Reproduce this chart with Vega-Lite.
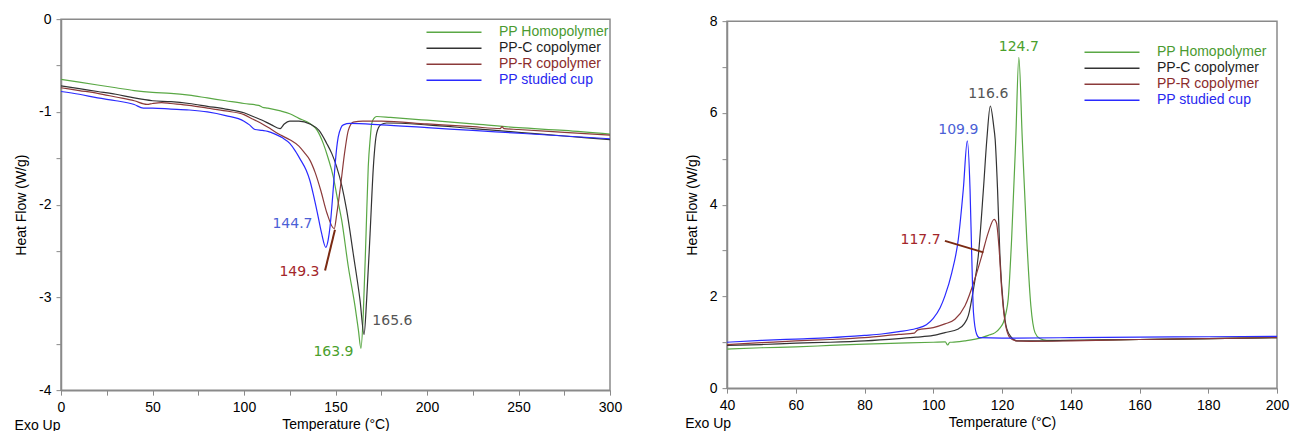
{
  "$schema": "https://vega.github.io/schema/vega-lite/v6.json",
  "padding": {"left": 13, "top": 11, "right": 0, "bottom": 0},
  "spacing": 61,
  "center": true,
  "config": {
    "font": "Liberation Sans",
    "view": {"stroke": "#8a8a8a", "strokeWidth": 1.5},
    "axis": {"grid": false, "labelFont": "Liberation Sans", "labelFontSize": 14, "labelColor": "#000000", "titleFont": "Liberation Sans", "titleFontSize": 14, "titleFontWeight": "normal", "titleColor": "#000000", "tickColor": "#8a8a8a", "domainColor": "#8a8a8a", "domainWidth": 1.5, "tickSize": 5, "labelPadding": 5, "labelFlush": false, "labelOverlap": false},
    "axisY": {"titlePadding": 10},
    "axisX": {"titlePadding": 3},
    "title": {"font": "Liberation Sans", "fontSize": 14, "fontWeight": "normal", "color": "#000000"}
  },
  "datasets": {
    "heat": [
      {"series": "PP Homopolymer", "T": 0, "HF": -0.65}, {"series": "PP Homopolymer", "T": 10, "HF": -0.68}, {"series": "PP Homopolymer", "T": 20, "HF": -0.71}, {"series": "PP Homopolymer", "T": 30, "HF": -0.74}, {"series": "PP Homopolymer", "T": 40, "HF": -0.77}, {"series": "PP Homopolymer", "T": 50, "HF": -0.79}, {"series": "PP Homopolymer", "T": 60, "HF": -0.8}, {"series": "PP Homopolymer", "T": 70, "HF": -0.82}, {"series": "PP Homopolymer", "T": 80, "HF": -0.85}, {"series": "PP Homopolymer", "T": 90, "HF": -0.88}, {"series": "PP Homopolymer", "T": 100, "HF": -0.91}, {"series": "PP Homopolymer", "T": 108, "HF": -0.93}, {"series": "PP Homopolymer", "T": 110, "HF": -0.95}, {"series": "PP Homopolymer", "T": 113, "HF": -0.96}, {"series": "PP Homopolymer", "T": 120, "HF": -0.99}, {"series": "PP Homopolymer", "T": 125, "HF": -1.02}, {"series": "PP Homopolymer", "T": 130, "HF": -1.07}, {"series": "PP Homopolymer", "T": 136, "HF": -1.125}, {"series": "PP Homopolymer", "T": 140, "HF": -1.2}, {"series": "PP Homopolymer", "T": 143.3, "HF": -1.34}, {"series": "PP Homopolymer", "T": 146, "HF": -1.5}, {"series": "PP Homopolymer", "T": 148.8, "HF": -1.7}, {"series": "PP Homopolymer", "T": 151, "HF": -1.93}, {"series": "PP Homopolymer", "T": 153.4, "HF": -2.17}, {"series": "PP Homopolymer", "T": 157, "HF": -2.67}, {"series": "PP Homopolymer", "T": 160.7, "HF": -3.1}, {"series": "PP Homopolymer", "T": 162.5, "HF": -3.35}, {"series": "PP Homopolymer", "T": 163.9, "HF": -3.55}, {"series": "PP Homopolymer", "T": 165.2, "HF": -3.17}, {"series": "PP Homopolymer", "T": 166.7, "HF": -2.31}, {"series": "PP Homopolymer", "T": 167.9, "HF": -1.59}, {"series": "PP Homopolymer", "T": 169, "HF": -1.28}, {"series": "PP Homopolymer", "T": 169.8, "HF": -1.125}, {"series": "PP Homopolymer", "T": 171, "HF": -1.07}, {"series": "PP Homopolymer", "T": 172.5, "HF": -1.05}, {"series": "PP Homopolymer", "T": 180, "HF": -1.06}, {"series": "PP Homopolymer", "T": 200, "HF": -1.09}, {"series": "PP Homopolymer", "T": 225, "HF": -1.13}, {"series": "PP Homopolymer", "T": 250, "HF": -1.17}, {"series": "PP Homopolymer", "T": 275, "HF": -1.2}, {"series": "PP Homopolymer", "T": 300, "HF": -1.24},
      {"series": "PP-C copolymer", "T": 0, "HF": -0.72}, {"series": "PP-C copolymer", "T": 10, "HF": -0.75}, {"series": "PP-C copolymer", "T": 20, "HF": -0.78}, {"series": "PP-C copolymer", "T": 30, "HF": -0.81}, {"series": "PP-C copolymer", "T": 40, "HF": -0.85}, {"series": "PP-C copolymer", "T": 50, "HF": -0.88}, {"series": "PP-C copolymer", "T": 60, "HF": -0.89}, {"series": "PP-C copolymer", "T": 70, "HF": -0.91}, {"series": "PP-C copolymer", "T": 80, "HF": -0.94}, {"series": "PP-C copolymer", "T": 90, "HF": -0.97}, {"series": "PP-C copolymer", "T": 100, "HF": -1.01}, {"series": "PP-C copolymer", "T": 105, "HF": -1.05}, {"series": "PP-C copolymer", "T": 110, "HF": -1.09}, {"series": "PP-C copolymer", "T": 115, "HF": -1.14}, {"series": "PP-C copolymer", "T": 119.7, "HF": -1.18}, {"series": "PP-C copolymer", "T": 122, "HF": -1.13}, {"series": "PP-C copolymer", "T": 125, "HF": -1.1}, {"series": "PP-C copolymer", "T": 130, "HF": -1.1}, {"series": "PP-C copolymer", "T": 136, "HF": -1.13}, {"series": "PP-C copolymer", "T": 141, "HF": -1.2}, {"series": "PP-C copolymer", "T": 145.2, "HF": -1.34}, {"series": "PP-C copolymer", "T": 148, "HF": -1.45}, {"series": "PP-C copolymer", "T": 150.6, "HF": -1.59}, {"series": "PP-C copolymer", "T": 153.5, "HF": -1.8}, {"series": "PP-C copolymer", "T": 156.1, "HF": -2.06}, {"series": "PP-C copolymer", "T": 159.7, "HF": -2.53}, {"series": "PP-C copolymer", "T": 163.4, "HF": -3.03}, {"series": "PP-C copolymer", "T": 165.6, "HF": -3.4}, {"series": "PP-C copolymer", "T": 167, "HF": -3.03}, {"series": "PP-C copolymer", "T": 168.9, "HF": -2.31}, {"series": "PP-C copolymer", "T": 170.7, "HF": -1.59}, {"series": "PP-C copolymer", "T": 172.5, "HF": -1.23}, {"series": "PP-C copolymer", "T": 174.7, "HF": -1.14}, {"series": "PP-C copolymer", "T": 178, "HF": -1.12}, {"series": "PP-C copolymer", "T": 200, "HF": -1.14}, {"series": "PP-C copolymer", "T": 225, "HF": -1.18}, {"series": "PP-C copolymer", "T": 250, "HF": -1.22}, {"series": "PP-C copolymer", "T": 275, "HF": -1.26}, {"series": "PP-C copolymer", "T": 300, "HF": -1.3},
      {"series": "PP-R copolymer", "T": 0, "HF": -0.74}, {"series": "PP-R copolymer", "T": 10, "HF": -0.77}, {"series": "PP-R copolymer", "T": 20, "HF": -0.8}, {"series": "PP-R copolymer", "T": 30, "HF": -0.84}, {"series": "PP-R copolymer", "T": 40, "HF": -0.88}, {"series": "PP-R copolymer", "T": 47, "HF": -0.92}, {"series": "PP-R copolymer", "T": 50, "HF": -0.91}, {"series": "PP-R copolymer", "T": 55, "HF": -0.9}, {"series": "PP-R copolymer", "T": 60, "HF": -0.91}, {"series": "PP-R copolymer", "T": 70, "HF": -0.93}, {"series": "PP-R copolymer", "T": 80, "HF": -0.96}, {"series": "PP-R copolymer", "T": 90, "HF": -0.99}, {"series": "PP-R copolymer", "T": 100, "HF": -1.03}, {"series": "PP-R copolymer", "T": 105, "HF": -1.08}, {"series": "PP-R copolymer", "T": 110, "HF": -1.13}, {"series": "PP-R copolymer", "T": 115, "HF": -1.19}, {"series": "PP-R copolymer", "T": 120, "HF": -1.25}, {"series": "PP-R copolymer", "T": 125, "HF": -1.3}, {"series": "PP-R copolymer", "T": 130, "HF": -1.37}, {"series": "PP-R copolymer", "T": 133, "HF": -1.44}, {"series": "PP-R copolymer", "T": 136, "HF": -1.52}, {"series": "PP-R copolymer", "T": 139, "HF": -1.66}, {"series": "PP-R copolymer", "T": 142, "HF": -1.85}, {"series": "PP-R copolymer", "T": 145.3, "HF": -2.09}, {"series": "PP-R copolymer", "T": 149.3, "HF": -2.26}, {"series": "PP-R copolymer", "T": 150.7, "HF": -2.1}, {"series": "PP-R copolymer", "T": 152.5, "HF": -1.84}, {"series": "PP-R copolymer", "T": 155.2, "HF": -1.41}, {"series": "PP-R copolymer", "T": 157, "HF": -1.2}, {"series": "PP-R copolymer", "T": 159.7, "HF": -1.11}, {"series": "PP-R copolymer", "T": 165, "HF": -1.1}, {"series": "PP-R copolymer", "T": 175, "HF": -1.1}, {"series": "PP-R copolymer", "T": 200, "HF": -1.13}, {"series": "PP-R copolymer", "T": 225, "HF": -1.16}, {"series": "PP-R copolymer", "T": 240, "HF": -1.18}, {"series": "PP-R copolymer", "T": 241, "HF": -1.16}, {"series": "PP-R copolymer", "T": 242, "HF": -1.18}, {"series": "PP-R copolymer", "T": 250, "HF": -1.19}, {"series": "PP-R copolymer", "T": 275, "HF": -1.22}, {"series": "PP-R copolymer", "T": 300, "HF": -1.25},
      {"series": "PP studied cup", "T": 0, "HF": -0.78}, {"series": "PP studied cup", "T": 10, "HF": -0.81}, {"series": "PP studied cup", "T": 20, "HF": -0.85}, {"series": "PP studied cup", "T": 30, "HF": -0.88}, {"series": "PP studied cup", "T": 40, "HF": -0.92}, {"series": "PP studied cup", "T": 45, "HF": -0.96}, {"series": "PP studied cup", "T": 50, "HF": -0.96}, {"series": "PP studied cup", "T": 60, "HF": -0.97}, {"series": "PP studied cup", "T": 70, "HF": -0.98}, {"series": "PP studied cup", "T": 80, "HF": -1.0}, {"series": "PP studied cup", "T": 90, "HF": -1.04}, {"series": "PP studied cup", "T": 100, "HF": -1.1}, {"series": "PP studied cup", "T": 103, "HF": -1.14}, {"series": "PP studied cup", "T": 106, "HF": -1.19}, {"series": "PP studied cup", "T": 110, "HF": -1.2}, {"series": "PP studied cup", "T": 113, "HF": -1.21}, {"series": "PP studied cup", "T": 117, "HF": -1.24}, {"series": "PP studied cup", "T": 121, "HF": -1.28}, {"series": "PP studied cup", "T": 125, "HF": -1.34}, {"series": "PP studied cup", "T": 128, "HF": -1.42}, {"series": "PP studied cup", "T": 131, "HF": -1.52}, {"series": "PP studied cup", "T": 134, "HF": -1.63}, {"series": "PP studied cup", "T": 136, "HF": -1.74}, {"series": "PP studied cup", "T": 138, "HF": -1.9}, {"series": "PP studied cup", "T": 140, "HF": -2.08}, {"series": "PP studied cup", "T": 142.3, "HF": -2.3}, {"series": "PP studied cup", "T": 144.7, "HF": -2.46}, {"series": "PP studied cup", "T": 146, "HF": -2.38}, {"series": "PP studied cup", "T": 147, "HF": -2.24}, {"series": "PP studied cup", "T": 148.5, "HF": -1.9}, {"series": "PP studied cup", "T": 149.7, "HF": -1.59}, {"series": "PP studied cup", "T": 150.7, "HF": -1.38}, {"series": "PP studied cup", "T": 151.5, "HF": -1.27}, {"series": "PP studied cup", "T": 153, "HF": -1.17}, {"series": "PP studied cup", "T": 154.3, "HF": -1.14}, {"series": "PP studied cup", "T": 158, "HF": -1.125}, {"series": "PP studied cup", "T": 175, "HF": -1.14}, {"series": "PP studied cup", "T": 200, "HF": -1.17}, {"series": "PP studied cup", "T": 225, "HF": -1.2}, {"series": "PP studied cup", "T": 250, "HF": -1.23}, {"series": "PP studied cup", "T": 275, "HF": -1.26}, {"series": "PP studied cup", "T": 300, "HF": -1.29}
    ],
    "cool": [
      {"series": "PP Homopolymer", "T": 40, "HF": 0.85}, {"series": "PP Homopolymer", "T": 50, "HF": 0.88}, {"series": "PP Homopolymer", "T": 60, "HF": 0.9}, {"series": "PP Homopolymer", "T": 70, "HF": 0.93}, {"series": "PP Homopolymer", "T": 80, "HF": 0.96}, {"series": "PP Homopolymer", "T": 90, "HF": 0.98}, {"series": "PP Homopolymer", "T": 100, "HF": 1.0}, {"series": "PP Homopolymer", "T": 103.5, "HF": 1.01}, {"series": "PP Homopolymer", "T": 104.2, "HF": 0.94}, {"series": "PP Homopolymer", "T": 104.8, "HF": 1.0}, {"series": "PP Homopolymer", "T": 105.4, "HF": 1.0}, {"series": "PP Homopolymer", "T": 109.2, "HF": 1.03}, {"series": "PP Homopolymer", "T": 114.1, "HF": 1.1}, {"series": "PP Homopolymer", "T": 116, "HF": 1.15}, {"series": "PP Homopolymer", "T": 118, "HF": 1.21}, {"series": "PP Homopolymer", "T": 119.5, "HF": 1.32}, {"series": "PP Homopolymer", "T": 120.4, "HF": 1.43}, {"series": "PP Homopolymer", "T": 121.2, "HF": 1.65}, {"series": "PP Homopolymer", "T": 121.8, "HF": 1.94}, {"series": "PP Homopolymer", "T": 122.8, "HF": 3.25}, {"series": "PP Homopolymer", "T": 124, "HF": 5.43}, {"series": "PP Homopolymer", "T": 124.9, "HF": 7.21}, {"series": "PP Homopolymer", "T": 125.9, "HF": 5.43}, {"series": "PP Homopolymer", "T": 127.2, "HF": 3.25}, {"series": "PP Homopolymer", "T": 128.4, "HF": 1.79}, {"series": "PP Homopolymer", "T": 129.6, "HF": 1.21}, {"series": "PP Homopolymer", "T": 131, "HF": 1.08}, {"series": "PP Homopolymer", "T": 133, "HF": 1.04}, {"series": "PP Homopolymer", "T": 140, "HF": 1.04}, {"series": "PP Homopolymer", "T": 150, "HF": 1.05}, {"series": "PP Homopolymer", "T": 160, "HF": 1.06}, {"series": "PP Homopolymer", "T": 170, "HF": 1.07}, {"series": "PP Homopolymer", "T": 180, "HF": 1.08}, {"series": "PP Homopolymer", "T": 190, "HF": 1.09}, {"series": "PP Homopolymer", "T": 200, "HF": 1.1},
      {"series": "PP-C copolymer", "T": 40, "HF": 0.93}, {"series": "PP-C copolymer", "T": 50, "HF": 0.95}, {"series": "PP-C copolymer", "T": 60, "HF": 0.98}, {"series": "PP-C copolymer", "T": 70, "HF": 1.0}, {"series": "PP-C copolymer", "T": 80, "HF": 1.03}, {"series": "PP-C copolymer", "T": 90, "HF": 1.08}, {"series": "PP-C copolymer", "T": 95, "HF": 1.11}, {"series": "PP-C copolymer", "T": 100, "HF": 1.15}, {"series": "PP-C copolymer", "T": 103.4, "HF": 1.21}, {"series": "PP-C copolymer", "T": 107.3, "HF": 1.29}, {"series": "PP-C copolymer", "T": 109, "HF": 1.4}, {"series": "PP-C copolymer", "T": 110.2, "HF": 1.58}, {"series": "PP-C copolymer", "T": 111.7, "HF": 2.16}, {"series": "PP-C copolymer", "T": 113.1, "HF": 2.88}, {"series": "PP-C copolymer", "T": 114.6, "HF": 4.34}, {"series": "PP-C copolymer", "T": 115.6, "HF": 5.43}, {"series": "PP-C copolymer", "T": 116.6, "HF": 6.15}, {"series": "PP-C copolymer", "T": 117.6, "HF": 5.7}, {"series": "PP-C copolymer", "T": 118, "HF": 5.43}, {"series": "PP-C copolymer", "T": 118.7, "HF": 4.34}, {"series": "PP-C copolymer", "T": 119.4, "HF": 2.88}, {"series": "PP-C copolymer", "T": 120.4, "HF": 1.79}, {"series": "PP-C copolymer", "T": 121.4, "HF": 1.29}, {"series": "PP-C copolymer", "T": 122.8, "HF": 1.1}, {"series": "PP-C copolymer", "T": 124.3, "HF": 1.03}, {"series": "PP-C copolymer", "T": 130, "HF": 1.03}, {"series": "PP-C copolymer", "T": 140, "HF": 1.04}, {"series": "PP-C copolymer", "T": 160, "HF": 1.06}, {"series": "PP-C copolymer", "T": 180, "HF": 1.08}, {"series": "PP-C copolymer", "T": 200, "HF": 1.1},
      {"series": "PP-R copolymer", "T": 40, "HF": 0.95}, {"series": "PP-R copolymer", "T": 50, "HF": 0.99}, {"series": "PP-R copolymer", "T": 60, "HF": 1.03}, {"series": "PP-R copolymer", "T": 70, "HF": 1.06}, {"series": "PP-R copolymer", "T": 80, "HF": 1.1}, {"series": "PP-R copolymer", "T": 90, "HF": 1.17}, {"series": "PP-R copolymer", "T": 94.5, "HF": 1.2}, {"series": "PP-R copolymer", "T": 95.5, "HF": 1.27}, {"series": "PP-R copolymer", "T": 100, "HF": 1.32}, {"series": "PP-R copolymer", "T": 103.4, "HF": 1.4}, {"series": "PP-R copolymer", "T": 106.3, "HF": 1.5}, {"series": "PP-R copolymer", "T": 109.2, "HF": 1.79}, {"series": "PP-R copolymer", "T": 112.1, "HF": 2.38}, {"series": "PP-R copolymer", "T": 114.1, "HF": 2.88}, {"series": "PP-R copolymer", "T": 116, "HF": 3.39}, {"series": "PP-R copolymer", "T": 117.7, "HF": 3.68}, {"series": "PP-R copolymer", "T": 118.4, "HF": 3.6}, {"series": "PP-R copolymer", "T": 119.1, "HF": 3.1}, {"series": "PP-R copolymer", "T": 119.9, "HF": 2.16}, {"series": "PP-R copolymer", "T": 120.9, "HF": 1.43}, {"series": "PP-R copolymer", "T": 122.3, "HF": 1.1}, {"series": "PP-R copolymer", "T": 124, "HF": 1.03}, {"series": "PP-R copolymer", "T": 128, "HF": 1.02}, {"series": "PP-R copolymer", "T": 140, "HF": 1.03}, {"series": "PP-R copolymer", "T": 160, "HF": 1.06}, {"series": "PP-R copolymer", "T": 180, "HF": 1.08}, {"series": "PP-R copolymer", "T": 200, "HF": 1.1},
      {"series": "PP studied cup", "T": 40, "HF": 1.0}, {"series": "PP studied cup", "T": 50, "HF": 1.04}, {"series": "PP studied cup", "T": 60, "HF": 1.07}, {"series": "PP studied cup", "T": 70, "HF": 1.1}, {"series": "PP studied cup", "T": 80, "HF": 1.15}, {"series": "PP studied cup", "T": 85, "HF": 1.18}, {"series": "PP studied cup", "T": 90, "HF": 1.23}, {"series": "PP studied cup", "T": 95, "HF": 1.3}, {"series": "PP studied cup", "T": 98, "HF": 1.38}, {"series": "PP studied cup", "T": 100, "HF": 1.52}, {"series": "PP studied cup", "T": 102, "HF": 1.75}, {"series": "PP studied cup", "T": 103.4, "HF": 2.01}, {"series": "PP studied cup", "T": 105.4, "HF": 2.52}, {"series": "PP studied cup", "T": 107.3, "HF": 3.25}, {"series": "PP studied cup", "T": 108.75, "HF": 4.34}, {"series": "PP studied cup", "T": 109.9, "HF": 5.39}, {"series": "PP studied cup", "T": 110.7, "HF": 4.34}, {"series": "PP studied cup", "T": 111.2, "HF": 2.88}, {"series": "PP studied cup", "T": 111.7, "HF": 1.65}, {"series": "PP studied cup", "T": 112.6, "HF": 1.18}, {"series": "PP studied cup", "T": 113.4, "HF": 1.1}, {"series": "PP studied cup", "T": 120, "HF": 1.09}, {"series": "PP studied cup", "T": 140, "HF": 1.1}, {"series": "PP studied cup", "T": 160, "HF": 1.11}, {"series": "PP studied cup", "T": 180, "HF": 1.12}, {"series": "PP studied cup", "T": 200, "HF": 1.13}
    ],
    "heatNotes": [
      {"series": "PP studied cup", "label": "144.7", "T": 126.5, "HF": -2.21},
      {"series": "PP-R copolymer", "label": "149.3", "T": 130.3, "HF": -2.73},
      {"series": "PP Homopolymer", "label": "163.9", "T": 148.9, "HF": -3.59},
      {"series": "PP-C copolymer", "label": "165.6", "T": 181.1, "HF": -3.25}
    ],
    "coolNotes": [
      {"series": "PP Homopolymer", "label": "124.7", "T": 124.9, "HF": 7.43},
      {"series": "PP-C copolymer", "label": "116.6", "T": 116.0, "HF": 6.41},
      {"series": "PP studied cup", "label": "109.9", "T": 107.3, "HF": 5.63},
      {"series": "PP-R copolymer", "label": "117.7", "T": 96.3, "HF": 3.22}
    ],
    "heatLeader": [{"T": 144.3, "HF": -2.71, "T2": 149.7, "HF2": -2.27}],
    "coolLeader": [{"T": 103.4, "HF": 3.21, "T2": 114.6, "HF2": 2.96}]
  },
  "resolve": {"scale": {"color": "independent", "fill": "independent"}, "legend": {"color": "independent"}},
  "hconcat": [
    {
      "width": 549,
      "height": 371,
      "title": {"text": "Exo Up", "orient": "bottom", "anchor": "start", "offset": -12},
      "layer": [
        {
          "data": {"name": "heat"},
          "mark": {"type": "line", "strokeWidth": 1.2, "interpolate": "monotone"},
          "encoding": {
            "x": {"field": "T", "type": "quantitative", "scale": {"domain": [0, 300], "nice": false, "zero": false},
                  "axis": {"title": "Temperature (°C)", "values": [0, 12.5, 25, 37.5, 50, 62.5, 75, 87.5, 100, 112.5, 125, 137.5, 150, 162.5, 175, 187.5, 200, 212.5, 225, 237.5, 250, 262.5, 275, 287.5, 300], "labelExpr": "datum.value % 50 == 0 ? '' + datum.value : ''"}},
            "y": {"field": "HF", "type": "quantitative", "scale": {"domain": [-4, 0], "nice": false, "zero": false},
                  "axis": {"title": "Heat Flow (W/g)", "values": [-4, -3.75, -3.5, -3.25, -3, -2.75, -2.5, -2.25, -2, -1.75, -1.5, -1.25, -1, -0.75, -0.5, -0.25, 0], "labelExpr": "datum.value % 1 == 0 ? '' + datum.value : ''"}},
            "color": {"field": "series", "type": "nominal",
                      "scale": {"domain": ["PP Homopolymer", "PP-C copolymer", "PP-R copolymer", "PP studied cup"], "range": ["#5aa845", "#333333", "#8b3a3a", "#2a2aff"]},
                      "legend": {"orient": "none", "legendX": 386, "legendY": 6, "title": null, "padding": 0, "symbolType": "M-5,0H5", "symbolSize": 121, "symbolStrokeWidth": 1.5, "labelOffset": 38, "labelFont": "Liberation Sans", "labelFontSize": 14, "rowPadding": 2,
                                 "labelColor": {"expr": "datum.value == 'PP Homopolymer' ? '#4a9a30' : datum.value == 'PP-C copolymer' ? '#1e1e1e' : datum.value == 'PP-R copolymer' ? '#8b2c2c' : '#2828f0'"}}}
          }
        },
        {
          "data": {"name": "heatLeader"},
          "mark": {"type": "rule", "color": "#7a2a12", "strokeWidth": 2},
          "encoding": {"x": {"field": "T", "type": "quantitative"}, "y": {"field": "HF", "type": "quantitative"}, "x2": {"field": "T2"}, "y2": {"field": "HF2"}}
        },
        {
          "data": {"name": "heatNotes"},
          "mark": {"type": "text", "font": "DejaVu Sans", "fontSize": 14, "align": "center", "baseline": "middle"},
          "encoding": {
            "x": {"field": "T", "type": "quantitative"}, "y": {"field": "HF", "type": "quantitative"},
            "text": {"field": "label"},
            "fill": {"field": "series", "type": "nominal", "scale": {"domain": ["PP Homopolymer", "PP-C copolymer", "PP-R copolymer", "PP studied cup"], "range": ["#4aa02c", "#555555", "#a3262a", "#4b5fd6"]}, "legend": null}
          }
        }
      ]
    },
    {
      "width": 550,
      "height": 367,
      "title": {"text": "Exo Up", "orient": "bottom", "anchor": "start", "offset": -12},
      "layer": [
        {
          "data": {"name": "cool"},
          "mark": {"type": "line", "strokeWidth": 1.2, "interpolate": "monotone"},
          "encoding": {
            "x": {"field": "T", "type": "quantitative", "scale": {"domain": [40, 200], "nice": false, "zero": false},
                  "axis": {"title": "Temperature (°C)", "values": [40, 45, 50, 55, 60, 65, 70, 75, 80, 85, 90, 95, 100, 105, 110, 115, 120, 125, 130, 135, 140, 145, 150, 155, 160, 165, 170, 175, 180, 185, 190, 195, 200], "labelExpr": "datum.value % 20 == 0 ? '' + datum.value : ''"}},
            "y": {"field": "HF", "type": "quantitative", "scale": {"domain": [0, 8], "nice": false, "zero": false},
                  "axis": {"title": "Heat Flow (W/g)", "values": [0, 0.5, 1, 1.5, 2, 2.5, 3, 3.5, 4, 4.5, 5, 5.5, 6, 6.5, 7, 7.5, 8], "labelExpr": "datum.value % 2 == 0 ? '' + datum.value : ''"}},
            "color": {"field": "series", "type": "nominal",
                      "scale": {"domain": ["PP Homopolymer", "PP-C copolymer", "PP-R copolymer", "PP studied cup"], "range": ["#5aa845", "#333333", "#8b3a3a", "#2a2aff"]},
                      "legend": {"orient": "none", "legendX": 378, "legendY": 24, "title": null, "padding": 0, "symbolType": "M-5,0H5", "symbolSize": 121, "symbolStrokeWidth": 1.5, "labelOffset": 38, "labelFont": "Liberation Sans", "labelFontSize": 14, "rowPadding": 2,
                                 "labelColor": {"expr": "datum.value == 'PP Homopolymer' ? '#4a9a30' : datum.value == 'PP-C copolymer' ? '#1e1e1e' : datum.value == 'PP-R copolymer' ? '#8b2c2c' : '#2828f0'"}}}
          }
        },
        {
          "data": {"name": "coolLeader"},
          "mark": {"type": "rule", "color": "#7a2a12", "strokeWidth": 2},
          "encoding": {"x": {"field": "T", "type": "quantitative"}, "y": {"field": "HF", "type": "quantitative"}, "x2": {"field": "T2"}, "y2": {"field": "HF2"}}
        },
        {
          "data": {"name": "coolNotes"},
          "mark": {"type": "text", "font": "DejaVu Sans", "fontSize": 14, "align": "center", "baseline": "middle"},
          "encoding": {
            "x": {"field": "T", "type": "quantitative"}, "y": {"field": "HF", "type": "quantitative"},
            "text": {"field": "label"},
            "fill": {"field": "series", "type": "nominal", "scale": {"domain": ["PP Homopolymer", "PP-C copolymer", "PP-R copolymer", "PP studied cup"], "range": ["#4aa02c", "#555555", "#a3262a", "#4b5fd6"]}, "legend": null}
          }
        }
      ]
    }
  ]
}
